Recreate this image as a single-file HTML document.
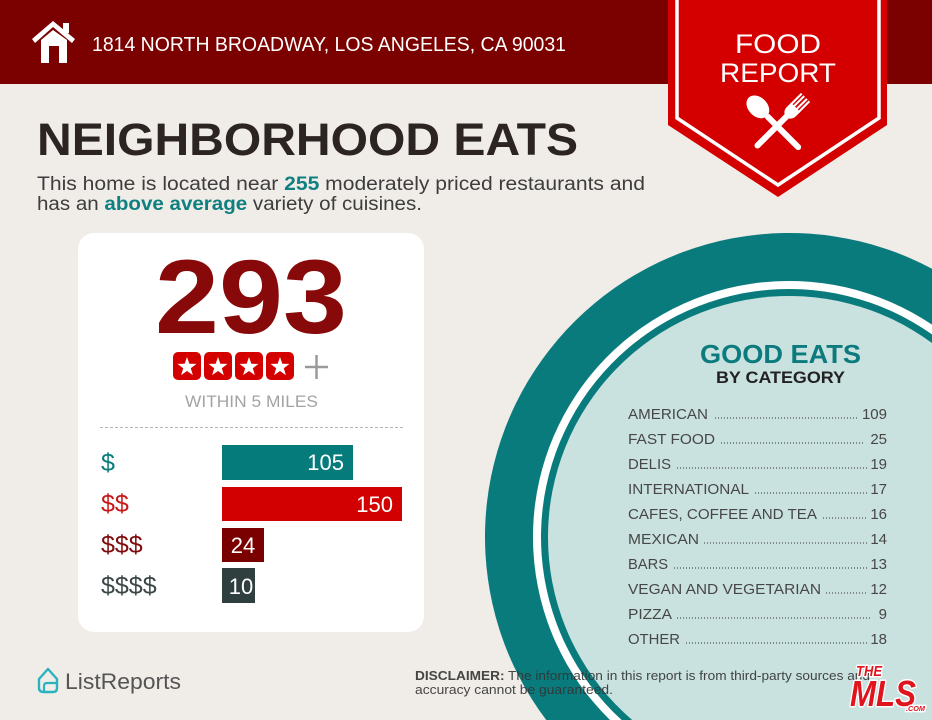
<!DOCTYPE html>
<html><head><meta charset="utf-8"><style>
html,body{margin:0;padding:0;background:#f0ece8;width:932px;height:720px;overflow:hidden;}
svg{display:block;}
text{font-family:"Liberation Sans",sans-serif;}
</style></head><body>
<svg width="932" height="720" viewBox="0 0 932 720" xmlns="http://www.w3.org/2000/svg">
<rect width="932" height="720" fill="#f0ece8"/>
<!-- header -->
<rect x="0" y="0" width="932" height="84" fill="#7b0000"/>
<g fill="#ffffff">
  <polygon points="32,39 53,21 75,39 72,43 53,27 35,43"/>
  <rect x="63" y="23" width="6" height="10"/>
  <path d="M41,40 L53,30 L67,40 L67,63 L59,63 L59,46 L49,46 L49,63 L41,63 Z"/>
</g>
<text x="92" y="51" font-size="20" fill="#ffffff" textLength="474" lengthAdjust="spacingAndGlyphs">1814 NORTH BROADWAY, LOS ANGELES, CA 90031</text>

<!-- badge -->
<polygon points="668,0 887,0 887,125 778,197 668,125" fill="#d40000"/>
<polyline points="677,0 677,118 778,185 879,118 879,0" fill="none" stroke="#ffffff" stroke-width="3.5"/>
<text x="778" y="53" font-size="27" fill="#ffffff" text-anchor="middle" textLength="86" lengthAdjust="spacingAndGlyphs">FOOD</text>
<text x="778" y="82" font-size="27" fill="#ffffff" text-anchor="middle" textLength="116" lengthAdjust="spacingAndGlyphs">REPORT</text>
<g fill="#ffffff">
  <g transform="translate(772 121) rotate(-45)">
    <ellipse cx="0" cy="-20" rx="9.5" ry="13"/>
    <line x1="0" y1="-6" x2="0" y2="37" stroke="#ffffff" stroke-width="6" stroke-linecap="round"/>
  </g>
  <g transform="translate(790 113) rotate(45)">
    <line x1="0" y1="0" x2="0" y2="46" stroke="#ffffff" stroke-width="6" stroke-linecap="round"/>
    <path d="M-6.5,-8 L6.5,-8 L6.5,-2 Q6.5,4 0,6 Q-6.5,4 -6.5,-2 Z"/>
    <rect x="-6.5" y="-22" width="2.1" height="15"/>
    <rect x="-3" y="-22" width="2.1" height="15"/>
    <rect x="0.9" y="-22" width="2.1" height="15"/>
    <rect x="4.4" y="-22" width="2.1" height="15"/>
  </g>
</g>

<!-- title -->
<text x="37" y="155" font-size="45" font-weight="bold" fill="#2b2423" textLength="541" lengthAdjust="spacingAndGlyphs">NEIGHBORHOOD EATS</text>
<text x="37" y="190" font-size="19" fill="#3d3d3d" textLength="608" lengthAdjust="spacingAndGlyphs">This home is located near <tspan font-weight="bold" fill="#0f7f80">255</tspan> moderately priced restaurants and</text>
<text x="37" y="210" font-size="19" fill="#3d3d3d" textLength="385" lengthAdjust="spacingAndGlyphs">has an <tspan font-weight="bold" fill="#0f7f80">above average</tspan> variety of cuisines.</text>

<!-- card -->
<rect x="78" y="233" width="346" height="399" rx="16" fill="#ffffff"/>
<text x="251" y="333" font-size="105" font-weight="bold" fill="#870909" text-anchor="middle" textLength="192" lengthAdjust="spacingAndGlyphs">293</text>
<g>
  <rect x="173" y="352" width="28" height="28" rx="5" fill="#d40000"/>
  <rect x="204" y="352" width="28" height="28" rx="5" fill="#d40000"/>
  <rect x="235" y="352" width="28" height="28" rx="5" fill="#d40000"/>
  <rect x="266" y="352" width="28" height="28" rx="5" fill="#d40000"/>
  <g fill="#ffffff">
    <polygon transform="translate(187 367)" points="0,-10 2.35,-3.24 9.51,-3.09 3.8,1.24 5.88,8.09 0,4 -5.88,8.09 -3.8,1.24 -9.51,-3.09 -2.35,-3.24"/>
    <polygon transform="translate(218 367)" points="0,-10 2.35,-3.24 9.51,-3.09 3.8,1.24 5.88,8.09 0,4 -5.88,8.09 -3.8,1.24 -9.51,-3.09 -2.35,-3.24"/>
    <polygon transform="translate(249 367)" points="0,-10 2.35,-3.24 9.51,-3.09 3.8,1.24 5.88,8.09 0,4 -5.88,8.09 -3.8,1.24 -9.51,-3.09 -2.35,-3.24"/>
    <polygon transform="translate(280 367)" points="0,-10 2.35,-3.24 9.51,-3.09 3.8,1.24 5.88,8.09 0,4 -5.88,8.09 -3.8,1.24 -9.51,-3.09 -2.35,-3.24"/>
  </g>
  <line x1="305" y1="367" x2="328" y2="367" stroke="#9a9a9a" stroke-width="2.5"/>
  <line x1="316.5" y1="355" x2="316.5" y2="379" stroke="#9a9a9a" stroke-width="2.5"/>
</g>
<text x="251.5" y="407" font-size="17" fill="#a3a3a3" text-anchor="middle" textLength="133" lengthAdjust="spacingAndGlyphs">WITHIN 5 MILES</text>
<line x1="100" y1="427.5" x2="403" y2="427.5" stroke="#b5b5b5" stroke-width="1" stroke-dasharray="3 2"/>

<!-- bars -->
<rect x="222" y="445" width="131" height="35" fill="#067b7b"/>
<rect x="222" y="487" width="180" height="34" fill="#d20000"/>
<rect x="222" y="528" width="42" height="34" fill="#7a0000"/>
<rect x="222" y="568" width="33" height="35" fill="#2f3e3e"/>
<g font-size="22" fill="#ffffff">
  <text x="344" y="470" text-anchor="end">105</text>
  <text x="393" y="512" text-anchor="end">150</text>
  <text x="243" y="553" text-anchor="middle">24</text>
  <text x="241" y="594" text-anchor="middle">10</text>
</g>
<g font-size="25">
  <text x="101" y="471" fill="#0a7b7d">$</text>
  <text x="101" y="512" fill="#c81818">$$</text>
  <text x="101" y="553" fill="#7f0b0b">$$$</text>
  <text x="101" y="594" fill="#3b4747">$$$$</text>
</g>

<!-- circle (clipped to frame) -->
<path d="M546.25,720 A304,304 0 0,1 932,268.73 L932,720 Z" fill="#0a7b7d"/>
<path d="M609.98,720 A256,256 0 0,1 932,324.66 L932,720 Z" fill="#ffffff"/>
<path d="M621.62,720 A248,248 0 0,1 932,334.38 L932,720 Z" fill="#0a7b7d"/>
<path d="M632.18,720 A241,241 0 0,1 932,343.01 L932,720 Z" fill="#c9e1df"/>

<text x="780.5" y="363" font-size="26" font-weight="bold" fill="#0b7b7d" text-anchor="middle" textLength="161" lengthAdjust="spacingAndGlyphs">GOOD EATS</text>
<text x="780.5" y="383" font-size="17" font-weight="bold" fill="#222222" text-anchor="middle" textLength="129" lengthAdjust="spacingAndGlyphs">BY CATEGORY</text>

<g font-size="15" fill="#474747">
  <text x="628" y="419" textLength="80" lengthAdjust="spacingAndGlyphs">AMERICAN</text>
  <text x="628" y="444" textLength="87" lengthAdjust="spacingAndGlyphs">FAST FOOD</text>
  <text x="628" y="469" textLength="43" lengthAdjust="spacingAndGlyphs">DELIS</text>
  <text x="628" y="494" textLength="121" lengthAdjust="spacingAndGlyphs">INTERNATIONAL</text>
  <text x="628" y="519" textLength="189" lengthAdjust="spacingAndGlyphs">CAFES, COFFEE AND TEA</text>
  <text x="628" y="544" textLength="71" lengthAdjust="spacingAndGlyphs">MEXICAN</text>
  <text x="628" y="569" textLength="40" lengthAdjust="spacingAndGlyphs">BARS</text>
  <text x="628" y="594" textLength="193" lengthAdjust="spacingAndGlyphs">VEGAN AND VEGETARIAN</text>
  <text x="628" y="619" textLength="44" lengthAdjust="spacingAndGlyphs">PIZZA</text>
  <text x="628" y="644" textLength="52" lengthAdjust="spacingAndGlyphs">OTHER</text>
  <g text-anchor="end">
    <text x="887" y="419">109</text>
    <text x="887" y="444">25</text>
    <text x="887" y="469">19</text>
    <text x="887" y="494">17</text>
    <text x="887" y="519">16</text>
    <text x="887" y="544">14</text>
    <text x="887" y="569">13</text>
    <text x="887" y="594">12</text>
    <text x="887" y="619">9</text>
    <text x="887" y="644">18</text>
  </g>
</g>
<g stroke="#555555" stroke-width="1.2" stroke-dasharray="1 2">
  <line x1="715" y1="418" x2="858" y2="418"/>
  <line x1="721" y1="443" x2="863" y2="443"/>
  <line x1="677" y1="468" x2="868" y2="468"/>
  <line x1="755" y1="493" x2="868" y2="493"/>
  <line x1="823" y1="518" x2="868" y2="518"/>
  <line x1="704" y1="543" x2="868" y2="543"/>
  <line x1="674" y1="568" x2="868" y2="568"/>
  <line x1="826" y1="593" x2="868" y2="593"/>
  <line x1="677" y1="618" x2="872" y2="618"/>
  <line x1="686" y1="643" x2="868" y2="643"/>
</g>

<!-- footer -->
<path d="M39,679 L48,669 L57,679 L57,688 Q57,692 53,692 L44,692 Q39,692 39,688 Z" fill="none" stroke="#2ab3bf" stroke-width="2.4" stroke-linejoin="round"/>
<path d="M44,692 L44,686 Q44,683 47,683 L57,683" fill="none" stroke="#2ab3bf" stroke-width="2.2" stroke-linejoin="round"/>
<text x="65" y="689" font-size="22" fill="#555555" textLength="116" lengthAdjust="spacingAndGlyphs">ListReports</text>

<g font-size="12.5" fill="#333333" opacity="0.9">
  <text x="415" y="680" textLength="455" lengthAdjust="spacingAndGlyphs"><tspan font-weight="bold">DISCLAIMER:</tspan> The information in this report is from third-party sources and</text>
  <text x="415" y="694" textLength="198" lengthAdjust="spacingAndGlyphs">accuracy cannot be guaranteed.</text>
</g>

<!-- MLS logo -->
<g font-weight="bold" font-style="italic" fill="#e0141c" stroke="#ffffff" stroke-width="3" paint-order="stroke" stroke-linejoin="round">
  <text x="856" y="676" font-size="15" textLength="26" lengthAdjust="spacingAndGlyphs">THE</text>
  <text x="850" y="706" font-size="36" textLength="66" lengthAdjust="spacingAndGlyphs">MLS</text>
  <text x="906" y="711" font-size="7" textLength="19" lengthAdjust="spacingAndGlyphs">.COM</text>
</g>
</svg>
</body></html>
